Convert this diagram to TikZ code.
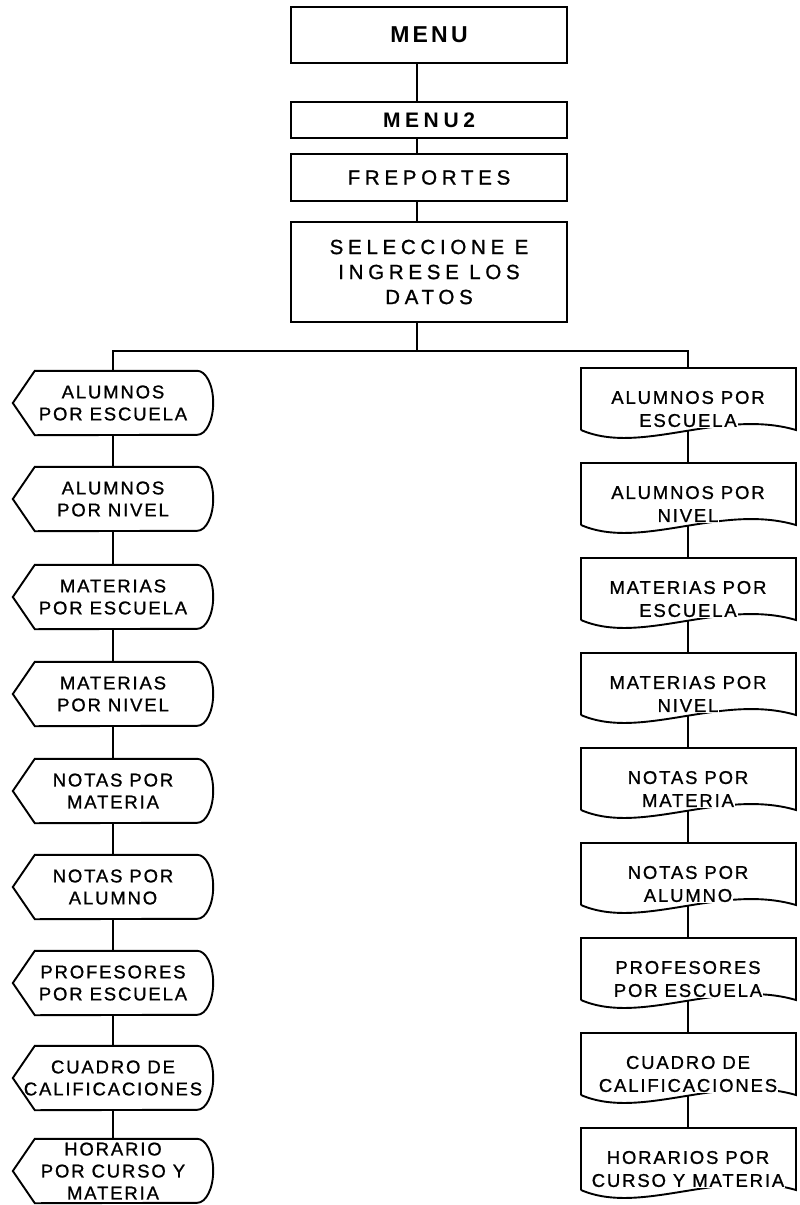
\documentclass[tikz,border=0pt]{standalone}
\usepackage{fontspec}
\setmainfont{Liberation Sans}
\newfontfamily\itemfont[LetterSpace=10,FakeBold=1]{Liberation Sans}
\newfontfamily\headfont[LetterSpace=23,FakeBold=1]{Liberation Sans}
\newfontfamily\menufont[LetterSpace=14]{Liberation Sans Bold}
\newfontfamily\menutwofont[LetterSpace=22]{Liberation Sans Bold}
\usetikzlibrary{calc}
% last text line of a document symbol sits on a white patch over the wavy edge
\newcommand{\onpatch}[1]{{\setlength{\fboxsep}{1pt}\colorbox{white}{#1}}}
\begin{document}
\begin{tikzpicture}[x=1pt,y=1pt,
  outline/.style={draw=black, line width=1.9pt, line join=miter},
  link/.style={draw=black, line width=1.6pt},
  headbox/.style={draw=black, line width=1.9pt, minimum width=276pt, inner sep=0pt,
    align=center, font={\headfont\fontsize{20.5pt}{25pt}\selectfont}},
  dispbox/.style={minimum width=200pt, minimum height=64pt, inner sep=0pt,
    align=center, font={\itemfont\fontsize{18.5pt}{22pt}\selectfont}},
  doctext/.style={inner sep=0pt, align=center,
    font={\itemfont\fontsize{18.5pt}{23pt}\selectfont}}]

\fill[white] (0,0) rectangle (800,-1205);
\useasboundingbox (0,0) rectangle (800,-1205);

% main menu chain
\node[headbox, minimum height=56pt, font={\menufont\fontsize{23pt}{25pt}\selectfont}]
  (menu)  at (429,-35)    {MENU};
\node[headbox, minimum height=36pt, font={\menutwofont\fontsize{21pt}{25pt}\selectfont}]
  (menu2) at (429,-120)   {MENU2};
\node[headbox, minimum height=47pt] (frep)  at (429,-177.5) {FREPORTES};
\node[headbox, minimum height=100pt] (sel)  at (429,-272)   {SELECCIONE E\\INGRESE LOS\\DATOS};

\coordinate (spine) at (417,0);
\coordinate (bus) at (0,-351);

\draw[link] (menu.south -| spine)  -- (menu2.north -| spine);
\draw[link] (menu2.south -| spine) -- (frep.north -| spine);
\draw[link] (frep.south -| spine)  -- (sel.north -| spine);
\draw[link] (sel.south -| spine)   -- (spine |- bus);

% left column: display symbols
\foreach \i/\t/\txt in {
  1/371/{ALUMNOS\\POR ESCUELA},
  2/467/{ALUMNOS\\POR NIVEL},
  3/565/{MATERIAS\\POR ESCUELA},
  4/662/{MATERIAS\\POR NIVEL},
  5/759/{NOTAS POR\\MATERIA},
  6/855/{NOTAS POR\\ALUMNO},
  7/951/{PROFESORES\\POR ESCUELA},
  8/1046/{CUADRO DE\\CALIFICACIONES},
  9/1139/{HORARIO\\POR CURSO Y\\MATERIA}} {
  \node[dispbox] (l\i) at (113,-\t-32) {\txt};
  \draw[outline] (l\i.west) -- ([xshift=22pt]l\i.north west)
    -- ([xshift=-16pt]l\i.north east)
    arc[start angle=90, end angle=-90, x radius=16pt, y radius=32pt]
    -- ([xshift=22pt]l\i.south west) -- cycle;
}

% right column: document symbols
\foreach \i/\t/\la/\lb in {
  1/368/{ALUMNOS POR}/{ESCUELA},
  2/463/{ALUMNOS POR}/{NIVEL},
  3/558/{MATERIAS POR}/{ESCUELA},
  4/653/{MATERIAS POR}/{NIVEL},
  5/748/{NOTAS POR}/{MATERIA},
  6/843/{NOTAS POR}/{ALUMNO},
  7/938/{PROFESORES}/{POR ESCUELA},
  8/1033/{CUADRO DE}/{CALIFICACIONES},
  9/1128/{HORARIOS POR}/{CURSO Y MATERIA}} {
  \draw[outline] (581,-\t-62) -- (581,-\t) -- (796,-\t) -- (796,-\t-62)
    .. controls (721,-\t-40) and (641,-\t-88) .. (581,-\t-62);
  \coordinate (r\i-top) at (688,-\t);
  \coordinate (r\i-bot) at (688,-\t-63);
  \node[doctext] (r\i) at (688,-\t-41.5) {\la\\\onpatch{\lb}};
}

% branch from the data entry box to both columns
\draw[link] (l1.north) -- (l1.north |- bus) -- (r1-top |- bus) -- (r1-top);

\foreach \a/\b in {1/2,2/3,3/4,4/5,5/6,6/7,7/8,8/9} {
  \draw[link] (l\a.south) -- (l\b.north);
  \draw[link] (r\a-bot) -- (r\b-top);
}
\end{tikzpicture}
\end{document}
